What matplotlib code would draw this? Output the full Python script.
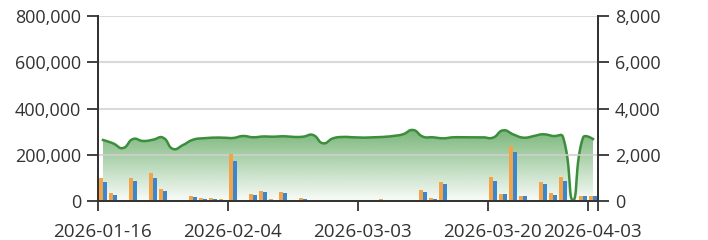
import numpy as np
import matplotlib
matplotlib.use("Agg")
import matplotlib.pyplot as plt
from matplotlib.ticker import FuncFormatter
from matplotlib.patches import Polygon

# trading days shown on the category axis
dates = ["2026-01-16",
         "2026-01-19", "2026-01-20", "2026-01-21", "2026-01-22", "2026-01-23",
         "2026-01-26", "2026-01-27", "2026-01-28", "2026-01-29", "2026-01-30",
         "2026-02-02", "2026-02-03", "2026-02-04", "2026-02-05", "2026-02-06",
         "2026-02-09", "2026-02-10", "2026-02-11", "2026-02-12", "2026-02-13",
         "2026-02-24", "2026-02-25", "2026-02-26", "2026-02-27",
         "2026-03-02", "2026-03-03", "2026-03-04", "2026-03-05", "2026-03-06",
         "2026-03-09", "2026-03-10", "2026-03-11", "2026-03-12", "2026-03-13",
         "2026-03-16", "2026-03-17", "2026-03-18", "2026-03-19", "2026-03-20",
         "2026-03-23", "2026-03-24", "2026-03-25", "2026-03-26", "2026-03-27",
         "2026-03-30", "2026-03-31", "2026-04-01", "2026-04-02", "2026-04-03"]

# bars (left axis)
orange_vals = [100700, 36000, 0, 100700, 0, 119700, 51900, 0, 0, 21600,
               11700, 11700, 8600, 202000, 0, 29000, 44500, 8600, 40200, 0,
               13000, 0, 0, 2000, 1500, 3000, 0, 0, 8600, 0,
               0, 2000, 49000, 11000, 82000, 0, 0, 0, 0, 102500,
               31700, 237800, 23000, 0, 80800, 33200, 102500, 0, 23000, 23000]
blue_vals = [83500, 27400, 0, 86500, 0, 100700, 43200, 0, 0, 17300,
             10000, 10000, 5600, 173000, 0, 24600, 40200, 5600, 34600, 0,
             10000, 0, 0, 1500, 1000, 2000, 0, 0, 5600, 0,
             0, 1500, 40200, 9500, 72000, 0, 0, 0, 0, 86500,
             30300, 210600, 20300, 0, 72000, 27400, 86500, 0, 20300, 20300]

# area line (right axis)
line_vals = [2638, 2495, 2290, 2680, 2595, 2650, 2740, 2250, 2420, 2650,
             2710, 2740, 2740, 2725, 2810, 2755, 2790, 2780, 2800, 2770,
             2780, 2855, 2495, 2710, 2770, 2755, 2740, 2755, 2770, 2810,
             2885, 3070, 2780, 2755, 2710, 2755, 2755, 2755, 2755, 2740,
             3055, 2885, 2740, 2800, 2885, 2810, 2770, 30, 2740, 2680]

label_idx = [0, 13, 26, 39, 49]

plt.rcParams['font.family'] = ['Open Sans', 'DejaVu Sans']
plt.rcParams['font.size'] = 13

fig = plt.figure(figsize=(7.08, 2.4), dpi=100)
ax = fig.add_axes([98/708, 1-201/240, 500/708, 185/240])
ax2 = ax.twinx()
# bars sit above the area
ax.set_zorder(ax2.get_zorder() + 1)
ax.patch.set_visible(False)

x = np.arange(len(dates))
ax.bar(x - 0.22, orange_vals, width=0.4, color='#F4A446', zorder=2)
ax.bar(x + 0.22, blue_vals, width=0.4, color='#3A87CF', zorder=2)

ax.set_xlim(-0.5, len(dates) - 0.5)
ax.set_ylim(0, 800000)
ax.set_yticks(np.arange(0, 800001, 200000))
ax.yaxis.set_major_formatter(FuncFormatter(lambda v, p: f"{int(v):,}"))
ax.yaxis.grid(True, color='#d0d0d0', lw=1.5, alpha=0.8)
ax.set_axisbelow(True)

# boundary ticks, labels at category centres
bounds = [i - 0.5 for i in label_idx] + [len(dates) - 0.5]
ax.set_xticks(bounds)
ax.set_xticklabels([])
ax.set_xticks(label_idx, minor=True)
ax.set_xticklabels([dates[i] for i in label_idx], minor=True, fontsize=13.6)
ax.tick_params(axis='x', which='major', length=7, width=1.3, color='#333333')
ax.tick_params(axis='x', which='minor', length=0, pad=16, colors='#333333')
ax.tick_params(axis='y', length=8, width=1.3, color='#333333', labelcolor='#333333', pad=4)

# smooth line (bezier like the original chart)
sx, sy = 10.0, 185.0 / 8000.0
px = x * sx
py = np.array(line_vals) * sy
n = len(px)
cps = []
for i in range(n):
    if i == 0 or i == n - 1:
        cps.append(((px[i], py[i]), (px[i], py[i])))
        continue
    vx, vy = px[i+1] - px[i-1], py[i+1] - py[i-1]
    lp = np.hypot(px[i] - px[i-1], py[i] - py[i-1])
    ln = np.hypot(px[i+1] - px[i], py[i+1] - py[i])
    rn = ln / (lp + ln)
    rp = lp / (lp + ln)
    cps.append(((px[i] - vx*0.5*rp, py[i] - vy*0.5*rp),
                (px[i] + vx*0.5*rn, py[i] + vy*0.5*rn)))
t = np.linspace(0, 1, 25)[:, None]
curve = []
for i in range(n - 1):
    p0 = np.array([px[i], py[i]])
    p1 = np.array(cps[i][1])
    p2 = np.array(cps[i+1][0])
    p3 = np.array([px[i+1], py[i+1]])
    seg = (1-t)**3*p0 + 3*(1-t)**2*t*p1 + 3*(1-t)*t**2*p2 + t**3*p3
    curve.append(seg if i == 0 else seg[1:])
curve = np.vstack(curve)
cx = curve[:, 0] / sx
cy = curve[:, 1] / sy

ax2.set_ylim(0, 8000)
ax2.set_yticks(np.arange(0, 8001, 2000))
ax2.yaxis.set_major_formatter(FuncFormatter(lambda v, p: f"{int(v):,}"))
ax2.tick_params(axis='y', length=8, width=1.3, color='#333333', labelcolor='#333333', pad=4)

top = max(line_vals)
grad = np.zeros((256, 1, 4))
grad[:, 0, 0] = 55/255
grad[:, 0, 1] = 145/255
grad[:, 0, 2] = 55/255
grad[:, 0, 3] = np.linspace(0.66, 0.03, 256)
poly = Polygon(np.column_stack([np.r_[cx, cx[-1], cx[0]], np.r_[cy, 0, 0]]),
               closed=True, facecolor='none', edgecolor='none', transform=ax2.transData)
ax2.add_patch(poly)
img = ax2.imshow(grad, aspect='auto', extent=(-0.5, len(dates) - 0.5, 0, top),
                 origin='upper', zorder=3)
img.set_clip_path(poly)
ax2.plot(cx, cy, color='#3b8e3b', lw=1.8, zorder=4)
ax2.set_xlim(-0.5, len(dates) - 0.5)
ax2.set_ylim(0, 8000)

for a in (ax, ax2):
    a.spines['top'].set_visible(False)
    for s in ('left', 'right', 'bottom'):
        a.spines[s].set_color('#333333')
        a.spines[s].set_linewidth(1.4)

fig.savefig("out.png", dpi=100)
